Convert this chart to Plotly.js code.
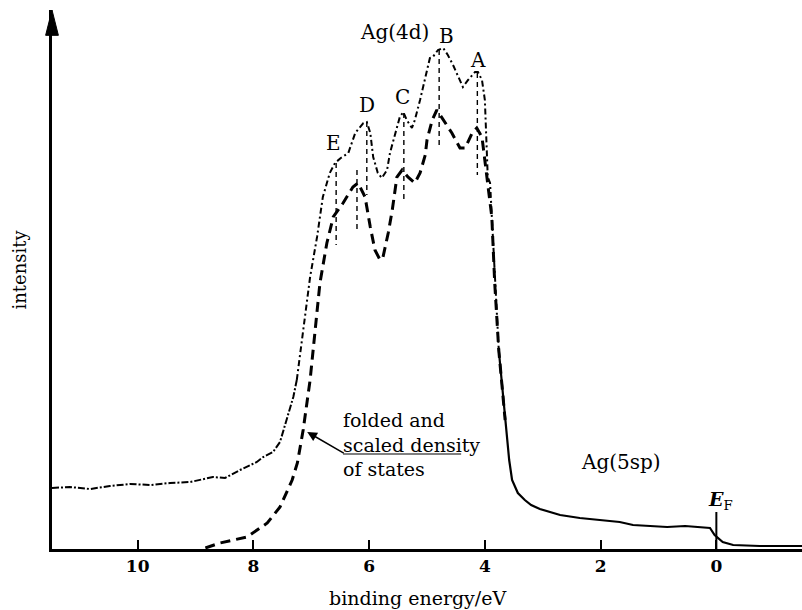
<!DOCTYPE html>
<html><head><meta charset="utf-8">
<script src="https://cdn.plot.ly/plotly-3.0.1.min.js"></script>
<style>html,body{margin:0;padding:0;background:#fff}#chart{width:802px;height:610px}</style>
</head><body><div id="chart"></div>
<script>
// Measured spectrum (binding energy in eV, intensity in arbitrary units)
const expE = [11.48,11.17,10.82,10.48,10.13,9.78,9.44,9.09,8.70,8.49,8.23,7.94,7.83,7.66,7.54,7.45,7.31,7.25,7.16,7.02,6.90,6.80,6.68,6.59,6.49,6.36,6.24,6.10,6.04,5.98,5.93,5.85,5.78,5.69,5.64,5.55,5.47,5.41,5.35,5.26,5.21,5.12,5.03,4.95,4.90,4.81,4.72,4.64,4.55,4.43,4.38,4.29,4.17,4.12,4.05,4.00,3.96,3.95,3.91,3.88,3.83,3.76,3.65,3.58,3.53,3.43,3.31,3.20,3.05,2.70,2.36,2.01,1.67,1.44,1.15,0.85,0.54,0.28,0.11,0.03,-0.11,-0.29,-0.75,-1.48];
const expI = [61,62,60,63,65,64,66,67,72,71,79,87,92,97,107,124,152,169,209,272,312,352,376,386,391,396,416,426,427,416,392,376,371,379,396,416,432,437,429,421,429,449,472,491,492,499,501,494,484,469,462,469,477,477,469,449,399,372,366,332,266,199,129,89,69,56,49,44,40,34,31,29,27,24,23,22,23,22,21,14,7,4,3,3];
// Folded and scaled density of states
const dosE = [8.83,8.58,8.11,7.76,7.54,7.33,7.24,7.14,7.02,6.97,6.85,6.73,6.62,6.45,6.28,6.19,6.07,5.98,5.90,5.81,5.76,5.67,5.60,5.52,5.43,5.33,5.21,5.12,5.03,5.00,4.91,4.83,4.72,4.57,4.43,4.34,4.22,4.14,4.05,4.00,3.95,3.88,3.83,3.76,3.65];
const dosI = [1,6,12,26,42,69,86,119,169,199,266,306,332,346,362,366,352,322,299,289,292,316,339,372,379,372,366,376,394,409,429,439,429,416,401,401,416,421,412,389,364,332,266,199,129];
// Peak markers
const peakNames = ['A','B','C','D','E'];
const peakE = [4.13,4.79,5.40,6.04,6.57,6.21];
const peakTop = [476,499,436,427,386,379];
const peakBottom = [374,401,349,354,304,319];
const peakLabelE = [4.12,4.67,5.43,6.04,6.62];
const peakLabelI = [489,513,452,444,406];
const xTicks = [10,8,6,4,2,0];
const fermiE = 0;

const FONT = 'DejaVu Serif';
const traces = [];
const leftE=[],leftI=[],midE=[],midI=[],rightE=[],rightI=[];
expE.forEach((e,i)=>{
  if(e>=7.25){leftE.push(e);leftI.push(expI[i]);}
  if(e<=7.25 && e>=3.76){midE.push(e);midI.push(expI[i]);}
  if(e<=3.76){rightE.push(e);rightI.push(expI[i]);}
});
traces.push({x:leftE,y:leftI,mode:'lines',line:{color:'#000',width:2,dash:'7px,2px,2px,2px'},hoverinfo:'skip'});
traces.push({x:midE,y:midI,mode:'lines',line:{color:'#000',width:2,dash:'6px,3px,2px,3px'},hoverinfo:'skip'});
traces.push({x:rightE,y:rightI,mode:'lines',line:{color:'#000',width:2.2},hoverinfo:'skip'});
traces.push({x:dosE,y:dosI,mode:'lines',line:{color:'#000',width:3,dash:'10px,6px'},hoverinfo:'skip'});
peakE.forEach((e,i)=>{
  traces.push({x:[e,e],y:[peakTop[i],peakBottom[i]],mode:'lines',line:{color:'#000',width:1.4,dash:'5px,4px'},hoverinfo:'skip'});
});
traces.push({x:[fermiE,fermiE],y:[0,37],mode:'lines',line:{color:'#000',width:2},hoverinfo:'skip'});

const ann = [];
const T = (x,y,text,size,extra)=>Object.assign({x:x,y:y,xref:'x',yref:'y',text:text,showarrow:false,xanchor:'center',yanchor:'middle',font:{family:FONT,size:size,color:'#000'}},extra||{});
peakNames.forEach((n,i)=>ann.push(T(peakLabelE[i],peakLabelI[i],n,20)));
ann.push(T(5.57,517,'Ag(4d)',20));
ann.push(T(1.65,87,'Ag(5sp)',20));
ann.push(T(-0.07,49,'<b><i>E</i></b><sub>F</sub>',19));
ann.push(T(6.48,105,'folded and<br>scaled density<br>of states',19,{xanchor:'left',align:'left'}));
ann.push({x:7.07,y:117,xref:'x',yref:'y',text:'',showarrow:true,arrowhead:2,arrowsize:1.3,arrowwidth:1.5,arrowcolor:'#000',ax:38,ay:22,standoff:0});
ann.push({x:0.488,y:-0.091,xref:'paper',yref:'paper',xanchor:'center',yanchor:'middle',text:'binding energy/eV',showarrow:false,font:{family:FONT,size:19,color:'#000'}});
ann.push({x:-0.043,y:0.518,xref:'paper',yref:'paper',xanchor:'center',yanchor:'middle',text:'intensity',textangle:-90,showarrow:false,font:{family:FONT,size:18,color:'#000'}});

const shapes = [
  {type:'line',xref:'x',yref:'y',x0:6.45,x1:4.41,y0:95,y1:95,line:{color:'#000',width:1.2}},
  {type:'path',xref:'paper',yref:'paper',path:'M -0.0085 0.953 L 0 1.0 L 0.0085 0.953 Z',fillcolor:'#000',line:{color:'#000',width:1}}
];

const layout = {
  width:802,height:610,
  margin:{l:52,r:0,t:10,b:61,pad:0},
  paper_bgcolor:'#fff',plot_bgcolor:'#fff',
  showlegend:false,
  xaxis:{range:[11.48,-1.48],autorange:false,tickvals:xTicks,ticktext:xTicks.map(String),ticks:'inside',ticklen:9,tickwidth:2,tickcolor:'#000',
    showline:true,linewidth:3,linecolor:'#000',showgrid:false,zeroline:false,
    tickfont:{family:FONT,size:17,color:'#000',weight:'bold'},ticklabelstandoff:0},
  yaxis:{range:[0,539],autorange:false,showticklabels:false,ticks:'',showline:true,linewidth:3,linecolor:'#000',showgrid:false,zeroline:false},
  annotations:ann,shapes:shapes
};
Plotly.newPlot('chart',traces,layout,{staticPlot:true,displayModeBar:false});
</script></body></html>
